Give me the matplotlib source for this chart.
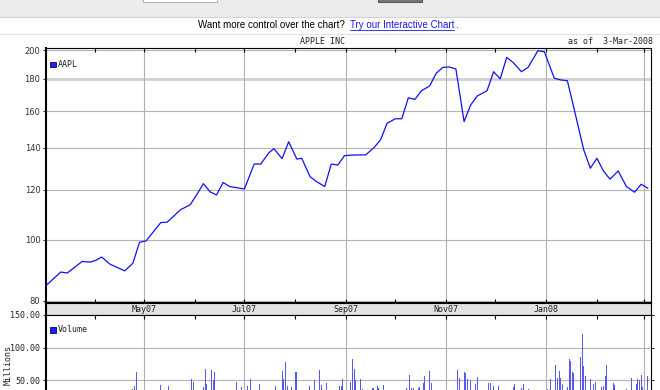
import numpy as np
import pandas as pd
import matplotlib
matplotlib.use("Agg")
from matplotlib import pyplot as plt
from matplotlib.patches import Rectangle
from matplotlib.ticker import NullLocator
import matplotlib.dates as mdates

W, H = 660, 390

# AAPL closes (approximate)
price_dates = [
    "2007-03-02", "2007-03-11", "2007-03-15", "2007-03-24", "2007-03-29", "2007-04-01",
    "2007-04-05", "2007-04-10", "2007-04-19", "2007-04-24", "2007-04-28", "2007-05-02",
    "2007-05-11", "2007-05-15", "2007-05-23", "2007-05-29", "2007-06-02", "2007-06-06",
    "2007-06-10", "2007-06-14", "2007-06-18", "2007-06-22", "2007-07-01", "2007-07-07",
    "2007-07-11", "2007-07-16", "2007-07-19", "2007-07-24", "2007-07-28", "2007-08-02",
    "2007-08-05", "2007-08-10", "2007-08-14", "2007-08-19", "2007-08-23", "2007-08-27",
    "2007-08-31", "2007-09-05", "2007-09-13", "2007-09-18", "2007-09-22", "2007-09-26",
    "2007-10-01", "2007-10-05", "2007-10-09", "2007-10-13", "2007-10-17", "2007-10-22",
    "2007-10-26", "2007-10-30", "2007-11-03", "2007-11-07", "2007-11-12", "2007-11-16",
    "2007-11-20", "2007-11-26", "2007-11-30", "2007-12-04", "2007-12-08", "2007-12-12",
    "2007-12-17", "2007-12-21", "2007-12-27", "2007-12-31", "2008-01-06", "2008-01-10",
    "2008-01-14", "2008-01-18", "2008-01-24", "2008-01-28", "2008-02-01", "2008-02-05",
    "2008-02-09", "2008-02-14", "2008-02-19", "2008-02-24", "2008-02-28", "2008-03-03",
]
price_close = [
    84.6, 88.9, 88.6, 92.4, 92.2, 92.7,
    93.9, 91.5, 89.3, 91.8, 99.1, 99.6,
    106.5, 106.7, 111.6, 113.7, 118.0, 122.8,
    119.2, 117.8, 123.3, 121.5, 120.4, 131.9,
    131.9, 137.5, 139.5, 134.5, 143.1, 134.3,
    134.7, 126.0, 123.7, 121.5, 131.9, 131.4,
    136.0, 136.3, 136.4, 140.0, 144.0, 153.0,
    155.6, 155.6, 168.0, 167.0, 172.4, 175.4,
    183.7, 187.7, 188.0, 186.6, 154.0, 163.6,
    169.1, 172.4, 184.8, 180.0, 194.7, 191.0,
    184.8, 187.7, 199.5, 198.7, 180.4, 179.3,
    178.8, 161.7, 138.8, 129.9, 134.7, 128.6,
    124.8, 128.6, 121.5, 119.0, 122.5, 120.8,
]

# daily volume (millions) - only the bars tall enough to show above the crop
vol_dates = [
    "2007-04-24", "2007-04-25", "2007-04-26", "2007-05-11", "2007-05-16", "2007-05-30",
    "2007-05-31", "2007-06-06", "2007-06-07", "2007-06-08", "2007-06-11", "2007-06-12",
    "2007-06-13", "2007-06-26", "2007-06-29", "2007-07-03", "2007-07-05", "2007-07-10",
    "2007-07-20", "2007-07-24", "2007-07-25", "2007-07-26", "2007-07-27", "2007-07-30",
    "2007-08-01", "2007-08-02", "2007-08-10", "2007-08-13", "2007-08-16", "2007-08-17",
    "2007-08-20", "2007-08-28", "2007-08-29", "2007-08-30", "2007-09-04", "2007-09-05",
    "2007-09-06", "2007-09-07", "2007-09-10", "2007-09-11", "2007-09-17", "2007-09-18",
    "2007-09-20", "2007-09-21", "2007-09-24", "2007-10-08", "2007-10-10", "2007-10-11",
    "2007-10-12", "2007-10-15", "2007-10-16", "2007-10-18", "2007-10-19", "2007-10-22",
    "2007-10-23", "2007-11-08", "2007-11-09", "2007-11-12", "2007-11-13", "2007-11-14",
    "2007-11-15", "2007-11-16", "2007-11-19", "2007-11-20", "2007-11-27", "2007-11-28",
    "2007-11-30", "2007-12-03", "2007-12-10", "2007-12-12", "2007-12-13", "2007-12-17",
    "2007-12-18", "2007-12-21", "2008-01-02", "2008-01-04", "2008-01-07", "2008-01-08",
    "2008-01-09", "2008-01-10", "2008-01-11", "2008-01-14", "2008-01-15", "2008-01-16",
    "2008-01-17", "2008-01-18", "2008-01-22", "2008-01-23", "2008-01-24", "2008-01-25",
    "2008-01-28", "2008-01-30", "2008-01-31", "2008-02-04", "2008-02-05", "2008-02-06",
    "2008-02-07", "2008-02-11", "2008-02-12", "2008-02-19", "2008-02-22", "2008-02-25",
    "2008-02-26", "2008-02-27", "2008-02-28", "2008-02-29", "2008-03-03",
]
vol_millions = [
    37, 42, 62, 43.5, 41, 52.6,
    47.5, 40, 67.7, 44, 66, 50,
    62, 47.5, 40, 41, 51.5, 44,
    42, 63.6, 52.6, 77.7, 42, 40,
    62.6, 62.6, 41, 50, 66, 43.5,
    46.5, 42, 42, 51.5, 47.5, 82.8,
    67.7, 50, 52.6, 37.4, 38, 38,
    41, 38, 43.5, 39, 58.6, 38,
    39, 39, 40, 46, 56, 64,
    46, 66, 54, 62.6, 61.6, 51.5,
    50, 50, 45, 55, 46.5, 46.5,
    41.5, 42, 38, 40, 44, 38,
    44, 36, 37, 51.5, 74, 54,
    64, 54, 45, 40, 83, 79,
    62.6, 61.6, 85, 120.7, 71.7, 56,
    52.6, 44, 47.5, 40, 41, 56,
    74, 46, 43.5, 37.4, 54, 45,
    52.6, 51, 57.6, 40, 56.5,
]

grid_months = ["2007-05-01", "2007-07-01", "2007-09-01", "2007-11-01", "2008-01-01", "2008-03-01"]
month_labels = ["May07", "Jul07", "Sep07", "Nov07", "Jan08", ""]
price_ticks = [80, 100, 120, 140, 160, 180, 200]
vol_ticks = [50, 100, 150]

pd_dates = pd.to_datetime(price_dates)
vd = pd.to_datetime(vol_dates)
gm = pd.to_datetime(grid_months)
all_months = pd.date_range("2007-04-01", "2008-03-01", freq="MS")
xlim = (pd.Timestamp("2007-03-02"), pd.Timestamp("2008-03-05"))

mono = "DejaVu Sans Mono"


def px_axes(fig, x0, y0, x1, y1, **kw):
    return fig.add_axes([x0 / W, 1 - y1 / H, (x1 - x0) / W, (y1 - y0) / H], **kw)


fig = plt.figure(figsize=(W / 100, H / 100), dpi=100)

# page decoration in pixel coordinates
bg = fig.add_axes([0, 0, 1, 1], zorder=-5)
bg.set_xlim(0, W)
bg.set_ylim(H, 0)
bg.axis("off")
bg.add_patch(Rectangle((0, 0), W, 16.5, color="#ececec", lw=0))
bg.plot([0, W], [16.5, 16.5], color="#d4d4d4", lw=0.8)
bg.add_patch(Rectangle((143, -3), 74, 5, facecolor="white", edgecolor="#b8b8b8", lw=0.8))
bg.add_patch(Rectangle((378, -3), 44, 5, facecolor="#767676", edgecolor="#5a5a5a", lw=0.8))
bg.plot([0, W], [33.5, 33.5], color="#e2e2e2", lw=0.8)

t1 = bg.text(348, 25, "Want more control over the chart? ", ha="right", va="center",
             fontsize=7, family="Liberation Sans", color="black")
t2 = bg.text(350, 25, "Try our Interactive Chart", ha="left", va="center",
             fontsize=7, family="Liberation Sans", color="#1a1aee")
r = fig.canvas.get_renderer()
bb = t2.get_window_extent(r)
x_end = bb.x1 / fig.dpi * 100
bg.plot([350, x_end], [29.5, 29.5], color="#1a1aee", lw=0.6)
bg.text(x_end + 0.5, 25, ".", ha="left", va="center", fontsize=7,
        family="Liberation Sans", color="black")

bg.text(323, 41, "APPLE INC", ha="center", va="center", fontsize=6, family=mono, color="#222")
bg.text(653, 41, "as of  3-Mar-2008", ha="right", va="center", fontsize=6, family=mono, color="#222")
bg.text(8, 365, "Millions", ha="center", va="center", rotation=90, fontsize=6, family=mono, color="#222")

# price panel
ax = px_axes(fig, 46, 48, 651, 303)
ax.set_yscale("log")
ax.set_ylim(79.4, 201.5)
ax.set_xlim(*xlim)
for v in price_ticks:
    if v == 180:
        ax.axhline(v, color="#cfcfcf", lw=2.0, zorder=1)
    else:
        ax.axhline(v, color="#b4b4b4", lw=0.8, zorder=1)
for d in gm:
    ax.axvline(d, color="#b0b0b0", lw=0.8, zorder=1)
ax.plot(pd_dates, price_close, color="#1010ff", lw=0.9, zorder=3)
ax.set_yticks(price_ticks)
ax.set_yticklabels([str(v) for v in price_ticks], fontsize=6, color="#333")
ax.yaxis.set_minor_locator(NullLocator())
ax.set_xticks(all_months)
ax.tick_params(axis="x", direction="in", top=True, bottom=True, length=3, width=0.8,
               labelbottom=False, color="black")
ax.tick_params(axis="y", direction="out", length=2, width=0.6, pad=2)
for s in ax.spines.values():
    s.set_color("black")
    s.set_linewidth(0.8)
ax.spines["left"].set_linewidth(1.5)
ax.spines["bottom"].set_linewidth(1.5)
ax.add_patch(Rectangle((0.006, 0.925), 0.010, 0.022, transform=ax.transAxes,
                       facecolor="#2020ee", edgecolor="#000088", lw=0.6, zorder=4))
ax.text(0.019, 0.936, "AAPL", transform=ax.transAxes, fontsize=6, family=mono,
        va="center", ha="left", color="#222", zorder=4)

# date band
band = px_axes(fig, 46, 303, 651, 315)
band.set_facecolor("#e2e2e2")
band.set_xlim(*xlim)
band.set_ylim(0, 1)
band.set_yticks([])
band.set_xticks([])
for d, lab in zip(gm, month_labels):
    band.text(d, 0.45, lab, ha="center", va="center", fontsize=6, family=mono, color="#222")
for s in band.spines.values():
    s.set_color("black")
    s.set_linewidth(0.8)
band.spines["left"].set_linewidth(1.5)

# volume panel (runs off the bottom of the image)
vol = px_axes(fig, 46, 315, 651, 413)
vol.set_xlim(*xlim)
vol.set_ylim(0, 150)
for v in vol_ticks[:-1]:
    vol.axhline(v, color="#b4b4b4", lw=0.8, zorder=1)
for d in gm:
    vol.axvline(d, color="#b0b0b0", lw=0.8, zorder=1)
vol.bar(vd, vol_millions, width=0.6, color="#5858f2", edgecolor="none", zorder=3)
vol.set_yticks(vol_ticks)
vol.set_yticklabels(["{:.2f}".format(v) for v in vol_ticks], fontsize=6, family=mono, color="#222")
vol.set_xticks(all_months)
vol.tick_params(axis="x", direction="in", top=True, bottom=False, length=3, width=0.8, labelbottom=False)
vol.tick_params(axis="y", direction="out", length=2, width=0.6, pad=2, right=True)
for s in vol.spines.values():
    s.set_color("black")
    s.set_linewidth(0.8)
vol.spines["left"].set_linewidth(1.5)
vol.add_patch(Rectangle((0.006, 0.82), 0.010, 0.055, transform=vol.transAxes,
                        facecolor="#2020ee", edgecolor="#000088", lw=0.6, zorder=4))
vol.text(0.019, 0.847, "Volume", transform=vol.transAxes, fontsize=6, family=mono,
         va="center", ha="left", color="#222", zorder=4)

plt.savefig("out.png", dpi=100)
plt.close()
